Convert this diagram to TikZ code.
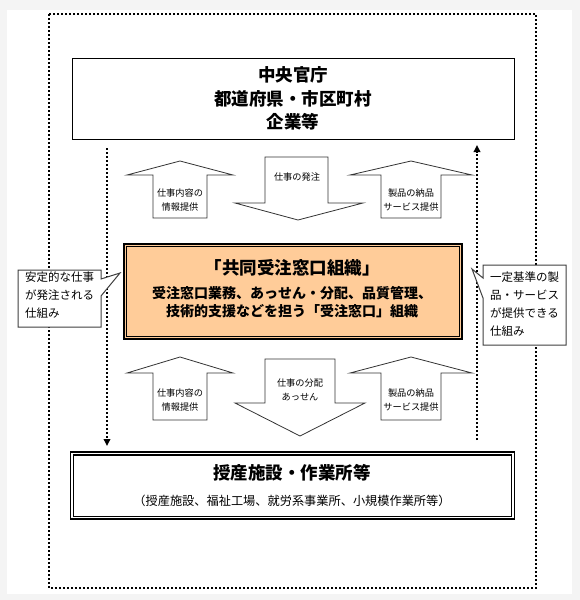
\documentclass[tikz,border=0pt]{standalone}
\usepackage{fontspec}
\newfontfamily\jp{Noto Sans CJK JP}
\usetikzlibrary{arrows.meta,calc}
\definecolor{peach}{HTML}{FFCC99}
\definecolor{pagegray}{HTML}{F4F4F4}

\tikzset{
  dotline/.style={line width=2pt, dash pattern=on 2pt off 2pt},
  dotarrow/.style={dotline, -{Triangle[length=7pt,width=6.5pt]}},
  blockarrow/.style={draw=black!80, line width=0.8pt, fill=white},
  callout/.style={draw=black!75, line width=1pt, fill=white},
  arrowtxt/.style={font=\jp\fontsize{9.2}{14}\selectfont, align=center, inner sep=0pt},
  notetxt/.style={font=\jp\fontsize{11.5}{18}\selectfont, align=left, anchor=north west, inner sep=0pt},
  bigtxt/.style={font=\jp\bfseries\fontsize{17.5}{23.5}\selectfont, align=center, inner sep=0pt},
}

\begin{document}
\begin{tikzpicture}[x=1pt, y=-1pt]
  \useasboundingbox (0,0) rectangle (580,600);
  \fill[pagegray] (0,0) rectangle (580,600);
  \fill[white] (7,10) rectangle (572,594);

  %% outer frame
  \draw[dotline] (49,14) rectangle (536,588);

  %% top: government / companies
  \node[draw, line width=1pt, minimum width=442pt, minimum height=81pt, bigtxt]
    (govt) at (293,98.5) {中央官庁\\都道府県・市区町村\\企業等};

  %% middle: joint order window
  \node[draw, line width=2.5pt, fill=peach, minimum width=338pt, minimum height=95pt]
    (window) at (293,291.5) {};
  \draw[line width=1pt] ($(window.north west)+(4,4)$) rectangle ($(window.south east)+(-4,-4)$);
  \node[bigtxt] (wtitle) at (292,268) {「共同受注窓口組織」};
  \node[font=\jp\bfseries\fontsize{14}{18}\selectfont, align=center, inner sep=0pt]
    (wsub) at (292,302) {受注窓口業務、あっせん・分配、品質管理、\\技術的支援などを担う「受注窓口」組織};

  %% bottom: workshops
  \node[draw, line width=1.2pt, minimum width=444pt, minimum height=67pt]
    (works) at (292.5,485.5) {};
  \draw[line width=1.2pt] ($(works.north west)+(3.5,3.5)$) rectangle ($(works.south east)+(-3.5,-3.5)$);
  \node[bigtxt] (wktitle) at (292,473) {授産施設・作業所等};
  \node[font=\jp\fontsize{12.2}{14}\selectfont, inner sep=0pt]
    (wksub) at (292,501) {（授産施設、福祉工場、就労系事業所、小規模作業所等）};

  %% dotted flows
  \coordinate (dlA) at (107,148);
  \coordinate (dlB) at (107,446);
  \coordinate (drA) at (477,440);
  \coordinate (drB) at (477,145);
  \draw[dotarrow] (dlA) -- (dlB);
  \draw[dotarrow] (drA) -- (drB);

  %% block arrows, upper row
  \foreach \c/\h/\s in {180/53/27, 411/61/30}{
    \draw[blockarrow] (\c-\s,218) -- (\c-\s,175) -- (\c-\h,175) -- (\c,161)
      -- (\c+\h,175) -- (\c+\s,175) -- (\c+\s,218) -- cycle;
  }
  \draw[blockarrow] (265,157) -- (328,157) -- (328,203) -- (363,203) -- (298,220)
    -- (235,203) -- (265,203) -- cycle;
  \node[arrowtxt] (upinfo) at (180,200) {仕事内容の\\情報提供};
  \node[arrowtxt] (order) at (297,177) {仕事の発注};
  \node[arrowtxt] (upgoods) at (411,200) {製品の納品\\サービス提供};

  %% block arrows, lower row
  \foreach \c/\h/\s in {180/53/27, 411/61/30}{
    \draw[blockarrow] (\c-\s,420) -- (\c-\s,373) -- (\c-\h,373) -- (\c,357)
      -- (\c+\h,373) -- (\c+\s,373) -- (\c+\s,420) -- cycle;
  }
  \draw[blockarrow] (265,359) -- (335,359) -- (335,403) -- (365,403) -- (300,436)
    -- (235,403) -- (265,403) -- cycle;
  \node[arrowtxt] (loinfo) at (180,400) {仕事内容の\\情報提供};
  \node[arrowtxt] (share) at (300,390) {仕事の分配\\あっせん};
  \node[arrowtxt] (logoods) at (411,400) {製品の納品\\サービス提供};

  %% callouts
  \coordinate (tipL) at (120,273);
  \draw[callout] (18,270) -- (101,270) -- (101,279) -- (tipL) -- (101,296)
    -- (101,327) -- (18,327) -- cycle;
  \node[notetxt] (noteL) at (25,272) {安定的な仕事\\が発注される\\仕組み};

  \coordinate (tipR) at (472,269);
  \draw[callout] (483,265) -- (566,265) -- (566,345) -- (483,345) -- (483,298)
    -- (tipR) -- (483,278) -- cycle;
  \node[notetxt] (noteR) at (490,272) {一定基準の製\\品・サービス\\が提供できる\\仕組み};
\end{tikzpicture}
\end{document}
